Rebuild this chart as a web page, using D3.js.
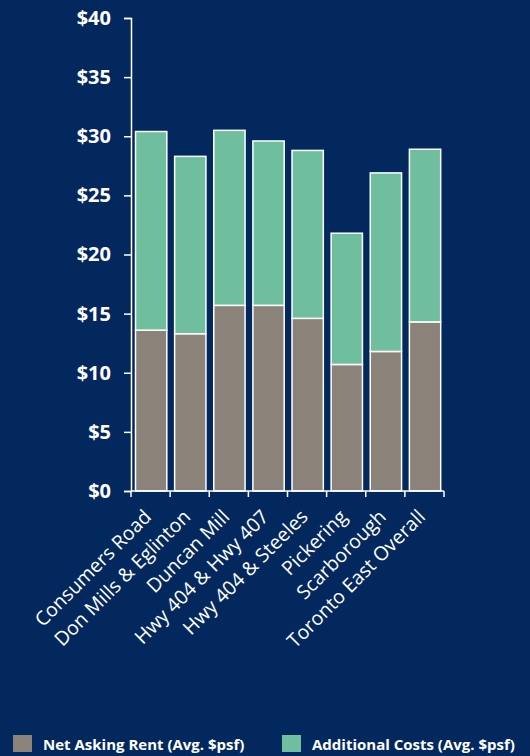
<!DOCTYPE html>
<html>
<head>
<meta charset="utf-8">
<script src="https://cdn.jsdelivr.net/npm/d3@7"></script>
<style>
    body { margin: 0; background: #03285e; }
    svg { display: block; }
    text { font-family: "Open Sans", sans-serif; fill: #ffffff; }
</style>
</head>
<body>
<div id="chart"></div>
<script>
"use strict";

// Data
var categories = ["Consumers Road", "Don Mills & Eglinton", "Duncan Mill", "Hwy 404 & Hwy 407",
    "Hwy 404 & Steeles", "Pickering", "Scarborough", "Toronto East Overall"];
var net_rent = [13.6, 13.3, 15.7, 15.7, 14.6, 10.7, 11.8, 14.3];
var additional = [16.8, 15.0, 14.8, 13.9, 14.2, 11.1, 15.1, 14.6];
var y_ticks = [0, 5, 10, 15, 20, 25, 30, 35, 40];
var series_names = ["Net Asking Rent (Avg. $psf)", "Additional Costs (Avg. $psf)"];
var series_colors = ["#8b8279", "#6fbf9f"];

var width = 530, height = 756;
var margin = { top: 18, right: 86, bottom: 265, left: 131 };

var svg = d3.select("#chart")
    .append("svg")
    .attr("width", width)
    .attr("height", height);

var x = d3.scaleBand()
    .domain(categories)
    .range([margin.left, width - margin.right])
    .paddingInner(0.2)
    .paddingOuter(0.1);

var y = d3.scaleLinear()
    .domain([0, 40])
    .range([height - margin.bottom, margin.top]);

// Stack the two series
var rows = categories.map(function (c, i) {
    return { cat: c, net: net_rent[i], add: additional[i] };
});
var stacked = d3.stack().keys(["net", "add"])(rows);

svg.append("g")
    .selectAll("g")
    .data(stacked)
    .join("g")
    .attr("fill", function (d, i) { return series_colors[i]; })
    .selectAll("rect")
    .data(function (d) { return d; })
    .join("rect")
    .attr("x", function (d) { return x(d.data.cat) + 0.6; })
    .attr("y", function (d) { return y(d[1]); })
    .attr("width", x.bandwidth())
    .attr("height", function (d) { return y(d[0]) - y(d[1]); })
    .attr("stroke", "#ffffff")
    .attr("stroke-width", 1.5);

// Y axis
var yAxis = svg.append("g")
    .attr("transform", "translate(" + margin.left + ",0)")
    .call(d3.axisLeft(y).tickValues(y_ticks).tickSize(7).tickPadding(13)
        .tickFormat(function (d) { return "$" + d; }));
yAxis.select(".domain").attr("stroke", "#ffffff").attr("stroke-width", 1.5);
yAxis.selectAll(".tick line").attr("stroke", "#ffffff").attr("stroke-width", 1.5);
yAxis.selectAll(".tick text")
    .attr("fill", "#ffffff")
    .style("font-family", "'Open Sans', sans-serif")
    .style("font-size", "20px")
    .style("font-weight", "bold");

// X axis: line with ticks at band boundaries
var xr = x.range();
var boundaries = d3.range(categories.length + 1).map(function (i) {
    return xr[0] + i * (xr[1] - xr[0]) / categories.length;
});
var xAxis = svg.append("g");
xAxis.append("line")
    .attr("x1", xr[0]).attr("x2", xr[1])
    .attr("y1", y(0)).attr("y2", y(0))
    .attr("stroke", "#ffffff").attr("stroke-width", 1.5);
xAxis.selectAll("line.tk")
    .data(boundaries)
    .join("line")
    .attr("class", "tk")
    .attr("x1", function (d) { return d; }).attr("x2", function (d) { return d; })
    .attr("y1", y(0)).attr("y2", y(0) + 6)
    .attr("stroke", "#ffffff").attr("stroke-width", 1.5);

xAxis.selectAll("text")
    .data(categories)
    .join("text")
    .attr("text-anchor", "end")
    .attr("transform", function (d) {
        return "translate(" + (x(d) + x.bandwidth() / 2 + 2) + "," + (y(0) + 27) + ") rotate(-45)";
    })
    .style("font-size", "19.5px")
    .text(function (d) { return d; });

// Legend
var legend_x = [13, 282];
var legend = svg.append("g")
    .selectAll("g")
    .data(series_names)
    .join("g")
    .attr("transform", function (d, i) { return "translate(" + legend_x[i] + ",735)"; });
legend.append("rect")
    .attr("width", 19).attr("height", 17)
    .attr("fill", function (d, i) { return series_colors[i]; });
legend.append("text")
    .attr("x", 30).attr("y", 14.5)
    .style("font-size", "15px")
    .style("font-weight", "bold")
    .text(function (d) { return d; });
</script>
</body>
</html>
